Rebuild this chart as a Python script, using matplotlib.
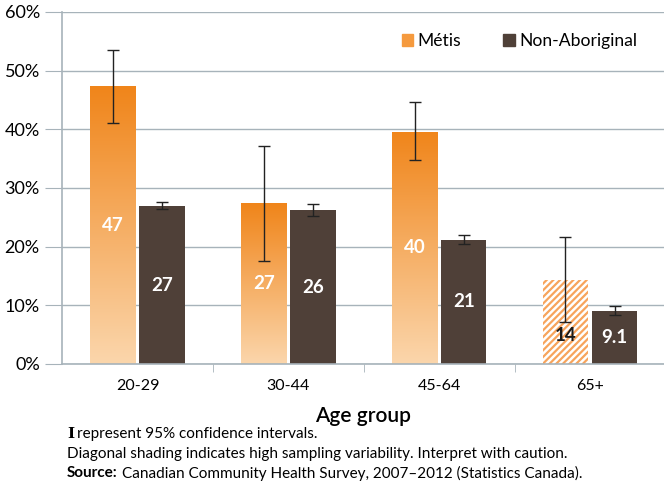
import numpy as np
import matplotlib.pyplot as plt
from matplotlib.colors import LinearSegmentedColormap

plt.rcParams['font.family'] = ['Lato', 'DejaVu Sans']
plt.rcParams['hatch.linewidth'] = 1.6

# data
age_groups = ['20-29', '30-44', '45-64', '65+']
metis = [47.3, 27.4, 39.6, 14.4]
metis_lo = [41.1, 17.6, 34.8, 7.2]
metis_hi = [53.5, 37.1, 44.6, 21.6]
non_ab = [26.9, 26.2, 21.2, 9.1]
non_ab_lo = [26.4, 25.3, 20.5, 8.3]
non_ab_hi = [27.6, 27.3, 22.0, 9.9]
metis_labels = ['47', '27', '40', '14']
non_ab_labels = ['27', '26', '21', '9.1']
high_variability = [False, False, False, True]

orange_top = '#F0851A'
orange_bot = '#FBD6AC'
brown = '#4F4038'
grid_col = '#A7B3BA'

fig = plt.figure(figsize=(6.64, 4.83), dpi=100)
ax = fig.add_axes([0.0934, 0.2464, 0.9066, 0.7288])

x = np.arange(len(age_groups))
w = 0.30
off = 0.163

grad = LinearSegmentedColormap.from_list('g', [orange_bot, orange_top])
gimg = np.linspace(0, 1, 256).reshape(-1, 1)

for i in range(len(age_groups)):
    xm = x[i] - off
    if high_variability[i]:
        ax.bar(xm, metis[i], w, color='white', edgecolor='#F7A45C',
               hatch='/////', linewidth=0, zorder=2)
    else:
        # gradient fill clipped to the bar
        b = ax.bar(xm, metis[i], w, color='none', linewidth=0, zorder=2)
        im = ax.imshow(gimg, cmap=grad, origin='lower', aspect='auto',
                       extent=[xm - w / 2, xm + w / 2, 0, metis[i]], zorder=2)
        im.set_clip_path(b[0])
    ax.bar(x[i] + off, non_ab[i], w, color=brown, linewidth=0, zorder=2)

# error bars
m_err = [np.array(metis) - np.array(metis_lo), np.array(metis_hi) - np.array(metis)]
n_err = [np.array(non_ab) - np.array(non_ab_lo), np.array(non_ab_hi) - np.array(non_ab)]
ax.errorbar(x - off, metis, yerr=m_err, fmt='none', ecolor='#222222',
            elinewidth=1, capsize=4, capthick=1, zorder=4)
ax.errorbar(x + off, non_ab, yerr=n_err, fmt='none', ecolor='#222222',
            elinewidth=1, capsize=4, capthick=1, zorder=4)

# value labels (keep the label under the error bar when it would overlap)
for i in range(len(age_groups)):
    ym = metis[i] / 2
    if high_variability[i]:
        ym = min(ym, metis_lo[i] - 2.3)
    ax.text(x[i] - off, ym, metis_labels[i], ha='center', va='center',
            fontsize=13.5, fontweight='bold',
            color='#1a1a1a' if high_variability[i] else 'white', zorder=5)
    ax.text(x[i] + off, non_ab[i] / 2, non_ab_labels[i], ha='center', va='center',
            fontsize=13.5, fontweight='bold', color='white', zorder=5)

ax.set_xlim(-0.5, 3.49)
ax.set_ylim(0, 60)
ax.set_yticks(range(0, 61, 10))
ax.set_yticklabels([f'{v}%' for v in range(0, 61, 10)], fontsize=13)
ax.yaxis.grid(True, color=grid_col, linewidth=1)
ax.set_axisbelow(True)

ax.set_xticks(x)
ax.set_xticklabels(age_groups, fontsize=11.5)
ax.set_xticks([0.5, 1.5, 2.5], minor=True)
ax.tick_params(axis='x', which='major', length=0, pad=11)
ax.tick_params(axis='x', which='minor', length=6, color=grid_col)
ax.tick_params(axis='y', length=12, color=grid_col, pad=4)

for s in ['top', 'right']:
    ax.spines[s].set_visible(False)
for s in ['left', 'bottom']:
    ax.spines[s].set_color(grid_col)
    ax.spines[s].set_linewidth(1.2)

ax.set_xlabel('Age group', fontsize=15, fontweight='semibold', labelpad=9)

# legend
h1 = plt.Rectangle((0, 0), 1, 1, color='#F59A3E')
h2 = plt.Rectangle((0, 0), 1, 1, color=brown)
ax.legend([h1, h2], ['Métis', 'Non-Aboriginal'], loc='center right',
          bbox_to_anchor=(637 / 664, 1 - 41 / 483), bbox_transform=fig.transFigure,
          ncol=2, frameon=False, fontsize=12.6, borderpad=0, borderaxespad=0,
          handlelength=0.65, handleheight=0.65, handletextpad=0.25, columnspacing=2.4)

# footnotes
fs = 11
fig.text(0.101, 1 - 434 / 483, 'I', fontsize=fs, fontweight='bold',
         family='DejaVu Serif', va='center')
fig.text(0.116, 1 - 434 / 483, 'represent 95% confidence intervals.', fontsize=fs, va='center')
fig.text(0.101, 1 - 454 / 483,
         'Diagonal shading indicates high sampling variability. Interpret with caution.',
         fontsize=fs, va='center')
src = fig.text(0.101, 1 - 473 / 483, 'Source:', fontsize=fs, fontweight='bold', va='center')
ax.annotate('Canadian Community Health Survey, 2007\u20132012 (Statistics Canada).',
            xy=(1, 0.5), xycoords=src, xytext=(3, 0), textcoords='offset points',
            fontsize=fs, va='center', ha='left', annotation_clip=False)

fig.savefig('out.png', dpi=100)
